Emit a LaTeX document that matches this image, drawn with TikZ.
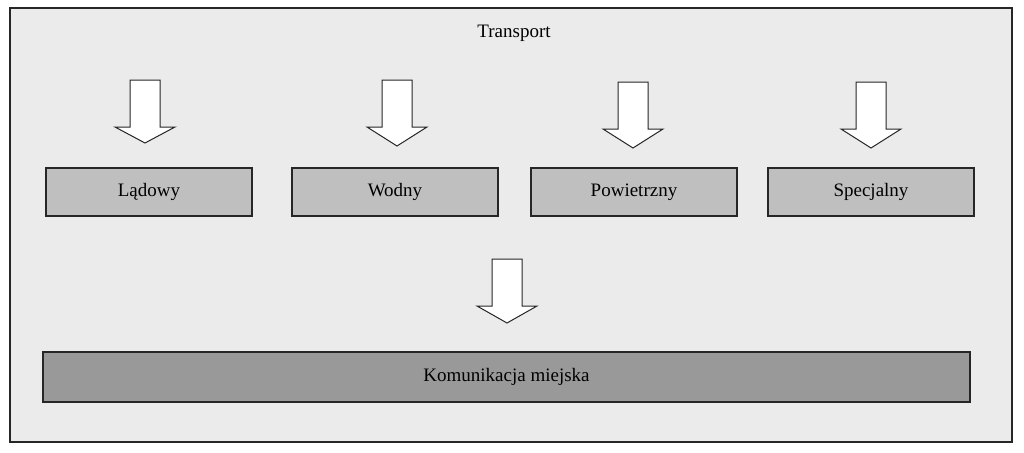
\documentclass[tikz,border=0pt]{standalone}
\usepackage{fontspec}
\setmainfont{Liberation Serif}
\begin{document}
\begin{tikzpicture}[x=1pt,y=-1pt,
  box/.style={draw=black!85,line width=1.2pt,fill=black!25,minimum height=48pt,font=\fontsize{19}{22}\selectfont,inner sep=0pt},
  bigbox/.style={box,fill=black!40},
  darr/.style={draw=black!85,line width=1pt,fill=white,line join=miter}]
\useasboundingbox (0,0) rectangle (1024,452);
\fill[white] (0,0) rectangle (1024,452);
\draw[line width=1.2pt,draw=black!85,fill=black!8] (10,8) rectangle (1012,442);
\node[font=\fontsize{19}{22}\selectfont] (t) at (514,33) {Transport};
\node[box,minimum width=206pt] (l) at (149,192) {Lądowy};
\node[box,minimum width=206pt] (w) at (395,192) {Wodny};
\node[box,minimum width=206pt] (p) at (634,192) {Powietrzny};
\node[box,minimum width=206pt] (s) at (871,192) {Specjalny};
\node[bigbox,minimum width=927pt,minimum height=50pt] (k) at (506.5,377) {Komunikacja miejska};
\newcommand\downarr[4]{% cx, top, headstart, tip
  \draw[darr] (#1-15,#2) -- (#1+15,#2) -- (#1+15,#3) -- (#1+30,#3) -- (#1,#4) -- (#1-30,#3) -- (#1-15,#3) -- cycle;}
\downarr{145}{80}{127}{143}
\downarr{397}{80}{127}{146}
\downarr{633}{82}{129}{148}
\downarr{871}{82}{129}{148}
\downarr{507}{259}{306}{323}
\end{tikzpicture}
\end{document}
